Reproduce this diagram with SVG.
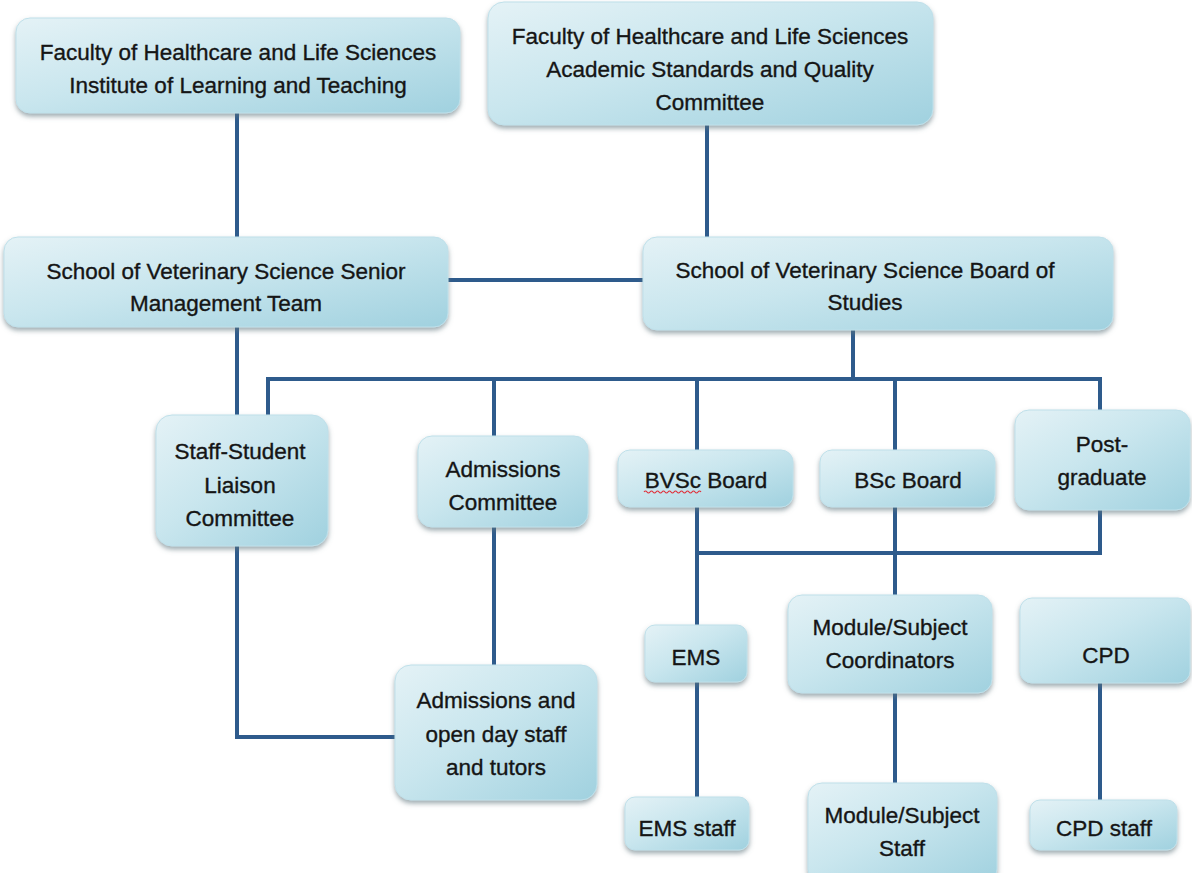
<svg xmlns="http://www.w3.org/2000/svg" width="1192" height="873" viewBox="0 0 1192 873">
<defs>
<linearGradient id="boxfill" x1="0" y1="0" x2="1" y2="1">
<stop offset="0" stop-color="#e4f2f6"/>
<stop offset="0.45" stop-color="#c9e6ee"/>
<stop offset="1" stop-color="#a0d1df"/>
</linearGradient>
<filter id="shadow" x="-10%" y="-10%" width="120%" height="130%">
<feDropShadow dx="0" dy="3" stdDeviation="2.5" flood-color="#5f747b" flood-opacity="0.6"/>
</filter>
</defs>
<style>
.box{fill:url(#boxfill);stroke:#bfe0ea;stroke-width:1;filter:url(#shadow)}
.lbl{font-family:"Liberation Sans",Arial,sans-serif;font-size:22.5px;fill:#151515;stroke:#151515;stroke-width:0.35;text-anchor:middle}
.conn{fill:none;stroke:#2e5b8c;stroke-width:4;stroke-linejoin:miter;stroke-linecap:butt}
</style>
<rect width="1192" height="873" fill="#ffffff"/>
<g id="connectors">
<path class="conn" d="M237 113 V237"/>
<path class="conn" d="M707 125 V237"/>
<path class="conn" d="M448 280 H643"/>
<path class="conn" d="M237 327 V415"/>
<path class="conn" d="M237 546 V737 H395"/>
<path class="conn" d="M853 330 V379"/>
<path class="conn" d="M268 415 V379 H1100 V410"/>
<path class="conn" d="M494 379 V436"/>
<path class="conn" d="M697 379 V450"/>
<path class="conn" d="M895 379 V450"/>
<path class="conn" d="M494 527 V665"/>
<path class="conn" d="M697 507 V625"/>
<path class="conn" d="M697 682 V797"/>
<path class="conn" d="M697 553 H1100 V510"/>
<path class="conn" d="M895 507 V595"/>
<path class="conn" d="M895 693 V783"/>
<path class="conn" d="M1100 683 V800"/>
</g>
<g id="n1">
<rect class="box" x="16" y="18" width="444" height="95" rx="14"/>
<text class="lbl" x="238" y="60">Faculty of Healthcare and Life Sciences</text>
<text class="lbl" x="238" y="93">Institute of Learning and Teaching</text>
</g>
<g id="n2">
<rect class="box" x="488" y="2" width="445" height="123" rx="16"/>
<text class="lbl" x="710" y="44">Faculty of Healthcare and Life Sciences</text>
<text class="lbl" x="710" y="77">Academic Standards and Quality</text>
<text class="lbl" x="710" y="110">Committee</text>
</g>
<g id="n3">
<rect class="box" x="4" y="237" width="444" height="90" rx="14"/>
<text class="lbl" x="226" y="279">School of Veterinary Science Senior</text>
<text class="lbl" x="226" y="311">Management Team</text>
</g>
<g id="n4">
<rect class="box" x="643" y="237" width="470" height="93" rx="14"/>
<text class="lbl" x="865" y="278">School of Veterinary Science Board of</text>
<text class="lbl" x="865" y="310">Studies</text>
</g>
<g id="n5">
<rect class="box" x="156" y="415" width="172" height="131" rx="16"/>
<text class="lbl" x="240" y="459">Staff-Student</text>
<text class="lbl" x="240" y="493">Liaison</text>
<text class="lbl" x="240" y="526">Committee</text>
</g>
<g id="n6">
<rect class="box" x="418" y="436" width="170" height="91" rx="14"/>
<text class="lbl" x="503" y="477">Admissions</text>
<text class="lbl" x="503" y="510">Committee</text>
</g>
<g id="n7">
<rect class="box" x="618" y="450" width="175" height="57" rx="12"/>
<text class="lbl" x="706" y="488">BVSc Board</text>
<path d="M644 492 q1.5 -2 3 0 t3 0 t3 0 t3 0 t3 0 t3 0 t3 0 t3 0 t3 0 t3 0 t3 0 t3 0 t3 0 t3 0 t3 0 t3 0 t3 0 t3 0 t3 0" fill="none" stroke="#e0303a" stroke-width="1.2"/>
</g>
<g id="n8">
<rect class="box" x="820" y="450" width="175" height="57" rx="12"/>
<text class="lbl" x="908" y="488">BSc Board</text>
</g>
<g id="n9">
<rect class="box" x="1015" y="410" width="175" height="100" rx="14"/>
<text class="lbl" x="1102" y="452">Post-</text>
<text class="lbl" x="1102" y="485">graduate</text>
</g>
<g id="n10">
<rect class="box" x="645" y="625" width="102" height="57" rx="10"/>
<text class="lbl" x="696" y="665">EMS</text>
</g>
<g id="n11">
<rect class="box" x="788" y="595" width="204" height="98" rx="14"/>
<text class="lbl" x="890" y="635">Module/Subject</text>
<text class="lbl" x="890" y="668">Coordinators</text>
</g>
<g id="n12">
<rect class="box" x="1020" y="598" width="170" height="85" rx="12"/>
<text class="lbl" x="1106" y="663">CPD</text>
</g>
<g id="n13">
<rect class="box" x="395" y="665" width="202" height="135" rx="16"/>
<text class="lbl" x="496" y="708">Admissions and</text>
<text class="lbl" x="496" y="742">open day staff</text>
<text class="lbl" x="496" y="775">and tutors</text>
</g>
<g id="n14">
<rect class="box" x="625" y="797" width="124" height="53" rx="10"/>
<text class="lbl" x="687" y="836">EMS staff</text>
</g>
<g id="n15">
<rect class="box" x="808" y="783" width="189" height="100" rx="14"/>
<text class="lbl" x="902" y="823">Module/Subject</text>
<text class="lbl" x="902" y="856">Staff</text>
</g>
<g id="n16">
<rect class="box" x="1030" y="800" width="147" height="50" rx="10"/>
<text class="lbl" x="1104" y="836">CPD staff</text>
</g>
</svg>
